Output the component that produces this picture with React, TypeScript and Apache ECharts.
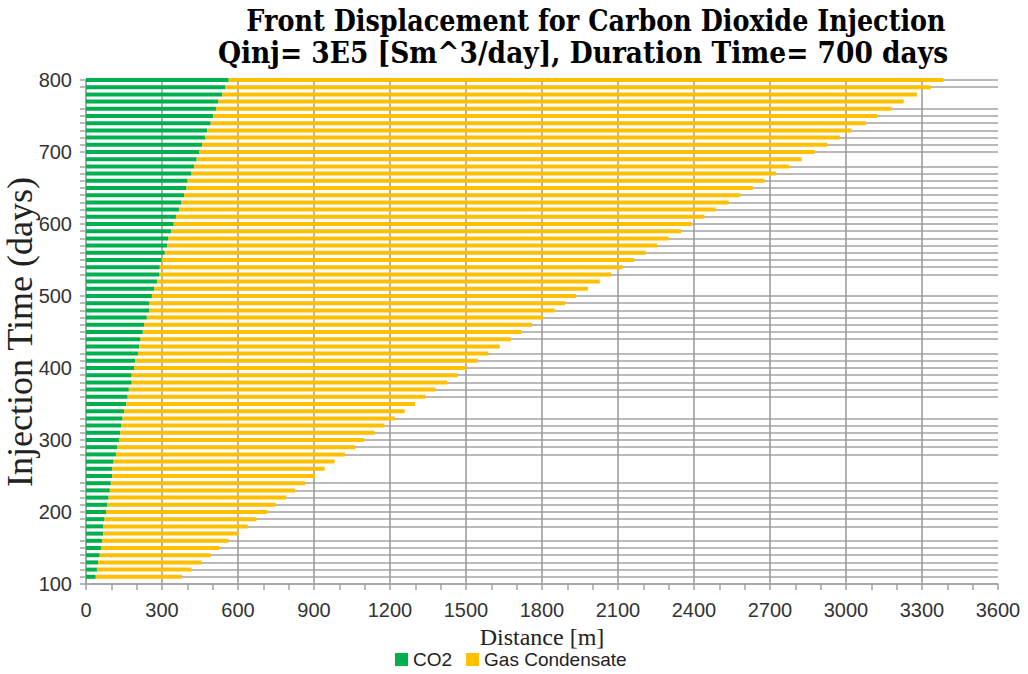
import React, { useEffect, useRef } from "react";
import * as echarts from "echarts";

// Injection time rows (days); 100 is the axis baseline and carries no bar
const days = [
  100, 110, 120, 130, 140, 150, 160, 170, 180, 190,
  200, 210, 220, 230, 240, 250, 260, 270, 280, 290,
  300, 310, 320, 330, 340, 350, 360, 370, 380, 390,
  400, 410, 420, 430, 440, 450, 460, 470, 480, 490,
  500, 510, 520, 530, 540, 550, 560, 570, 580, 590,
  600, 610, 620, 630, 640, 650, 660, 670, 680, 690,
  700, 710, 720, 730, 740, 750, 760, 770, 780, 790,
  800,
];

// CO2 front position [m] for each row (110 … 800 days)
const co2Front = [
  38, 43, 48, 54, 59, 63, 68, 68, 73,
  79, 84, 89, 94, 98, 104, 104, 109, 118, 123,
  130, 135, 139, 144, 150, 159, 164, 169, 180, 180,
  190, 194, 205, 210, 215, 224, 230, 240, 249, 250,
  260, 270, 281, 290, 291, 299, 311, 320, 325, 336,
  346, 355, 367, 376, 387, 396, 401, 416, 426, 437,
  447, 458, 471, 478, 492, 502, 513, 523, 538, 550,
  563,
];

// Gas condensate front position [m] for each row (110 … 800 days)
const gasFront = [
  379, 416, 457, 492, 526, 563, 602, 638, 673,
  715, 749, 790, 825, 866, 904, 942, 981, 1022, 1063,
  1098, 1139, 1178, 1219, 1258, 1299, 1340, 1380, 1426, 1467,
  1502, 1547, 1588, 1633, 1677, 1718, 1760, 1805, 1850, 1891,
  1935, 1982, 2028, 2073, 2118, 2164, 2210, 2254, 2300, 2350,
  2390, 2441, 2487, 2537, 2583, 2632, 2678, 2724, 2776, 2825,
  2876, 2926, 2976, 3022, 3079, 3123, 3180, 3228, 3280, 3335,
  3384,
];

// Rows drawn without a horizontal grid line / tick
const rowsWithoutGrid = [170, 250, 260, 270, 340, 350, 430, 510, 520, 690, 770, 780];

const xTicks = { min: 0, max: 3600, step: 300 };

const titleLines = [
  "Front Displacement for Carbon Dioxide Injection",
  "Qinj= 3E5 [Sm^3/day], Duration Time= 700 days",
];

const GREEN = "#00b050";
const YELLOW = "#ffc000";
const GRID = "#a3a3a3";
const LABEL_FONT = "'Liberation Sans', Arial, sans-serif";
const SERIF = "'Liberation Serif', 'DejaVu Serif', serif";

const titleStyle = {
  align: "center",
  verticalAlign: "top",
  fontFamily: "'DejaVu Serif', serif",
  fontWeight: "bold",
  fill: "#000000",
};

export default function App() {
  const ref = useRef<HTMLDivElement>(null);

  useEffect(() => {
    if (!ref.current) return;
    const chart = echarts.init(ref.current, null, { renderer: "svg" });

    const cats = days.map(String);
    const co2Data = [null, ...co2Front];
    const gasData = [null, ...gasFront.map((g, i) => g - co2Front[i])];
    const showRow = (index: number) => !rowsWithoutGrid.includes(days[index]);

    chart.setOption({
      animation: false,
      backgroundColor: "#ffffff",
      graphic: [
        {
          type: "text",
          x: 596,
          y: 5,
          scaleY: 1.15,
          style: { ...titleStyle, fontSize: 25.5, text: titleLines[0] },
        },
        {
          type: "text",
          x: 583,
          y: 38,
          scaleY: 1.12,
          style: { ...titleStyle, fontSize: 26.5, text: titleLines[1] },
        },
      ],
      legend: {
        bottom: 0,
        left: 390,
        icon: "rect",
        itemWidth: 13,
        itemHeight: 13,
        itemGap: 14,
        textStyle: { fontFamily: LABEL_FONT, fontSize: 19, color: "#222222" },
        data: ["CO2", "Gas Condensate"],
      },
      grid: { left: 86, right: 30, top: 80, bottom: 90, outerBoundsMode: "none" },
      xAxis: {
        type: "value",
        min: xTicks.min,
        max: xTicks.max,
        interval: xTicks.step,
        name: "Distance [m]",
        nameLocation: "middle",
        nameGap: 41,
        nameMoveOverlap: false,
        nameTextStyle: { fontFamily: SERIF, fontSize: 24, color: "#222222" },
        axisLine: { show: true, lineStyle: { color: GRID, width: 1.5 } },
        axisTick: { show: true, length: 6, lineStyle: { color: GRID, width: 1.5 } },
        minorTick: { show: true, splitNumber: 3, length: 6, lineStyle: { color: GRID, width: 1.5 } },
        axisLabel: {
          fontFamily: LABEL_FONT,
          fontSize: 20,
          color: "#333333",
          margin: 16,
          formatter: (v: number) => String(v),
        },
        splitLine: {
          show: true,
          showMaxLine: false,
          lineStyle: { color: "#9a9a9a", width: 1.5 },
        },
      },
      yAxis: {
        type: "category",
        data: cats,
        boundaryGap: false,
        name: "Injection Time (days)",
        nameLocation: "middle",
        nameGap: 48,
        nameMoveOverlap: false,
        nameTextStyle: { fontFamily: SERIF, fontSize: 36, color: "#222222" },
        axisLine: { show: true, lineStyle: { color: GRID, width: 1.5 } },
        axisTick: {
          show: true,
          length: 6,
          interval: (index: number) => showRow(index),
          lineStyle: { color: GRID, width: 1.5 },
        },
        axisLabel: {
          fontFamily: LABEL_FONT,
          fontSize: 20,
          color: "#333333",
          margin: 14,
          interval: (index: number) => index % 10 === 0,
        },
        splitLine: {
          show: true,
          interval: (index: number) => showRow(index),
          lineStyle: { color: GRID, width: 1.5 },
        },
      },
      series: [
        {
          name: "CO2",
          type: "bar",
          stack: "front",
          barWidth: 4,
          clip: false,
          itemStyle: { color: GREEN },
          data: co2Data,
        },
        {
          name: "Gas Condensate",
          type: "bar",
          stack: "front",
          barWidth: 4,
          clip: false,
          itemStyle: { color: YELLOW },
          data: gasData,
        },
      ],
    });

    return () => chart.dispose();
  }, []);

  return (
    <div
      ref={ref}
      style={{ position: "absolute", left: 0, top: 0, width: 1028, height: 674 }}
    />
  );
}
